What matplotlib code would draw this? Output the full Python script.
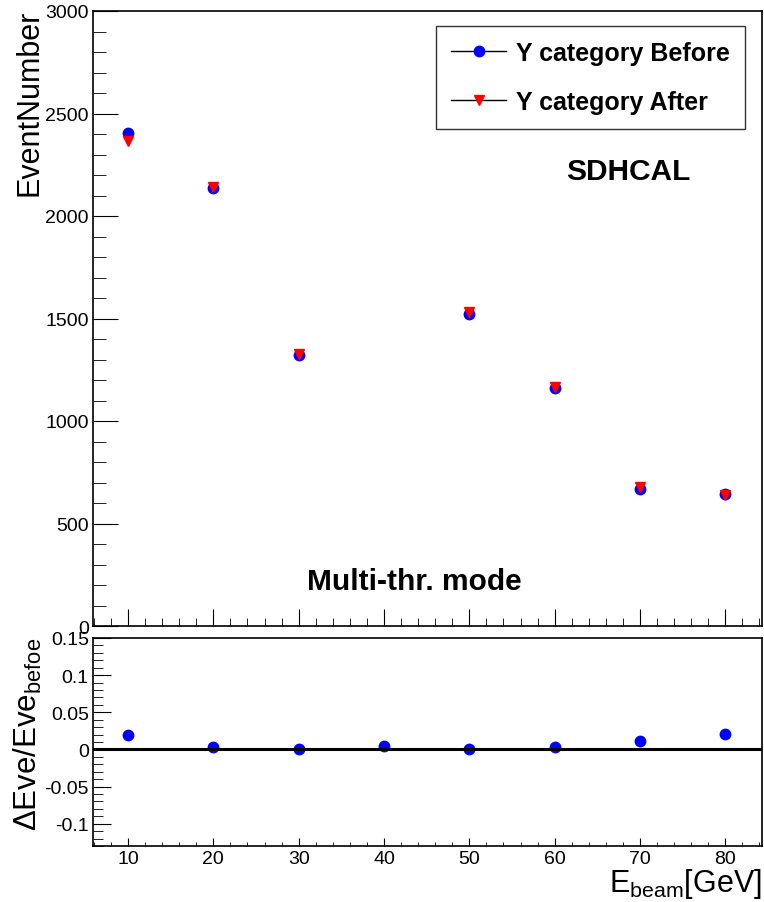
import numpy as np
import matplotlib.pyplot as plt
from matplotlib.ticker import MultipleLocator

plt.rcParams['font.family'] = ['Liberation Sans', 'DejaVu Sans']
plt.rcParams['mathtext.fontset'] = 'custom'
plt.rcParams['mathtext.rm'] = 'Liberation Sans'
plt.rcParams['mathtext.it'] = 'Liberation Sans'

energy = [10, 20, 30, 40, 50, 60, 70, 80]
# 40 GeV is off the top of the upper panel
before = [2405, 2137, 1322, 3300, 1522, 1161, 670, 645]
after = [2366, 2140, 1328, 3290, 1532, 1166, 677, 640]
ratio = [0.019, 0.003, 0.001, 0.005, 0.001, 0.003, 0.012, 0.021]

W, H = 764, 903
fig = plt.figure(figsize=(W / 100, H / 100), dpi=100)

def box(l, t, r, b):
    return [l / W, 1 - b / H, (r - l) / W, (b - t) / H]

ax1 = fig.add_axes(box(93, 12, 762, 627))
ax2 = fig.add_axes(box(93, 639, 762, 847))

ax1.plot(energy, before, 'o', color='blue', ms=7.5, label='Y category Before')
ax1.plot(energy, after, 'v', color='red', ms=7.5, label='Y category After')
ax1.set_xlim(5.9, 84.3)
ax1.set_ylim(0, 3000)
ax1.xaxis.set_major_locator(MultipleLocator(10))
ax1.xaxis.set_minor_locator(MultipleLocator(2))
ax1.yaxis.set_major_locator(MultipleLocator(500))
ax1.yaxis.set_minor_locator(MultipleLocator(100))
ax1.tick_params(axis='x', which='both', direction='in', labelbottom=False, top=False)
ax1.tick_params(axis='x', which='major', length=12)
ax1.tick_params(axis='x', which='minor', length=6)
ax1.tick_params(axis='y', which='both', direction='in', right=False, labelsize=14, pad=3)
ax1.tick_params(axis='y', which='major', length=18)
ax1.tick_params(axis='y', which='minor', length=9.5)

leg_handles = [
    plt.Line2D([], [], color='black', lw=1, marker='o', mfc='blue', mec='blue', ms=7.5),
    plt.Line2D([], [], color='black', lw=1, marker='v', mfc='red', mec='red', ms=7.5),
]
leg = ax1.legend(leg_handles, ['Y category Before', 'Y category After'],
                 loc='upper right', bbox_to_anchor=(0.9746, 0.9756), frameon=True,
                 fancybox=False, edgecolor='black', prop={'weight': 'bold', 'size': 18},
                 handlelength=2.2, handletextpad=0.4, labelspacing=1.0, borderpad=0.6,
                 borderaxespad=0)
leg.get_frame().set_linewidth(1)

ax1.text(0.80, 0.74, 'SDHCAL', transform=ax1.transAxes, ha='center', va='center',
         fontsize=21.5, fontweight='bold')
ax1.text(0.481, 0.073, 'Multi-thr. mode', transform=ax1.transAxes, ha='center',
         va='center', fontsize=21.5, fontweight='bold')
fig.text(30 / W, 1 - 10 / H, 'EventNumber', rotation=90, ha='center', va='top', fontsize=22)

ax2.plot(energy, ratio, 'o', color='blue', ms=7.5)
ax2.axhline(0, color='black', lw=2.2)
ax2.set_xlim(5.9, 84.3)
ax2.set_ylim(-0.13, 0.15)
ax2.xaxis.set_major_locator(MultipleLocator(10))
ax2.xaxis.set_minor_locator(MultipleLocator(2))
ax2.yaxis.set_minor_locator(MultipleLocator(0.01))
ax2.set_yticks([-0.1, -0.05, 0, 0.05, 0.1, 0.15])
ax2.set_yticklabels(['-0.1', '-0.05', '0', '0.05', '0.1', '0.15'])
ax2.tick_params(axis='both', which='both', direction='in', top=False, right=False, labelsize=14)
ax2.tick_params(axis='x', which='major', length=5.5, pad=3)
ax2.tick_params(axis='x', which='minor', length=3)
ax2.tick_params(axis='y', which='major', length=13, pad=3)
ax2.tick_params(axis='y', which='minor', length=7)

fig.text(28 / W, 1 - 638 / H, r'$\Delta$Eve/Eve$_{\mathrm{befoe}}$', rotation=90,
         ha='center', va='top', fontsize=22.5)
fig.text(762 / W, 1 - 892 / H, r'E$_{\mathrm{beam}}$[GeV]', ha='right', va='baseline',
         fontsize=22)

for ax in (ax1, ax2):
    for s in ax.spines.values():
        s.set_linewidth(1.2)

fig.savefig('out.png', dpi=100)
